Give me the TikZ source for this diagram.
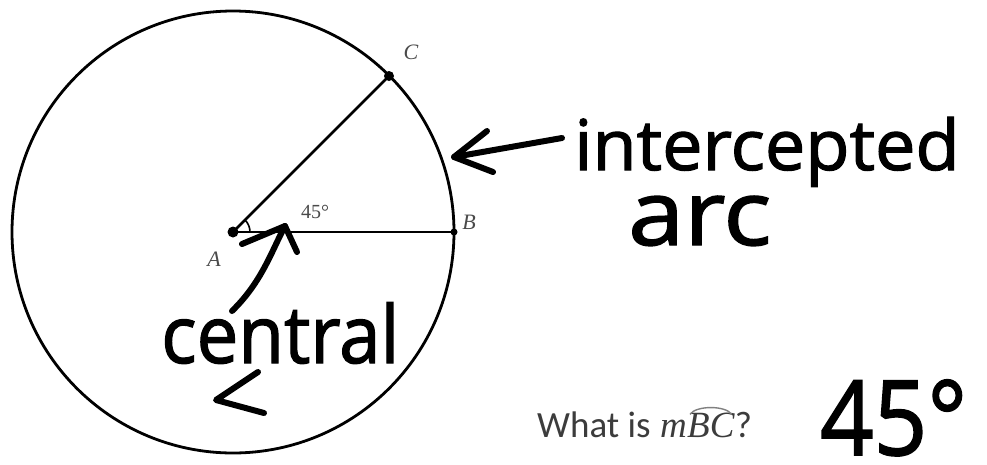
\documentclass[tikz,border=0pt]{standalone}
\usepackage{fontspec}
\usepackage{graphicx}
\setmainfont{Liberation Serif}
\newfontfamily\handfont[FakeBold=1.6]{Open Sans}
\newfontfamily\qfont{Carlito}
\newfontfamily\lblfont{Liberation Serif}
\definecolor{lbl}{HTML}{4A4A4A}
\definecolor{qtext}{HTML}{3C3C3C}
\tikzset{
  geo/.style={line width=2.8pt, black},
  hand/.style={line width=6pt, black, line cap=round, line join=round},
  ptlabel/.style={text=lbl, font=\lblfont\itshape\fontsize{22}{22}\selectfont, inner sep=0pt},
  handtext/.style={inner sep=0pt, text=black, text depth=0pt},
  qtxt/.style={inner sep=0pt, text=qtext, anchor=base west},
}
\begin{document}
\begin{tikzpicture}[x=1pt,y=-1pt]
\useasboundingbox (0,0) rectangle (987,464);
% geometry
\coordinate (A) at (233,232);
\coordinate (B) at (454,232);
\coordinate (C) at (389,76);
\draw[geo] (A) circle[radius=221];
\draw[geo] (A) -- (C);
\draw[geo] (A) -- (B);
\fill (A) circle[radius=5.5];
\fill (C) circle[radius=5];
\fill (B) circle[radius=3.5];
\draw[line width=1.6pt] ([xshift=17pt]A) arc[start angle=0, end angle=-45, radius=17];
% labels
\node[ptlabel] (lA) at (214,259) {A};
\node[ptlabel] (lB) at (469,222) {B};
\node[ptlabel] (lC) at (411,52) {C};
\node[text=lbl, font=\lblfont\fontsize{20}{20}\selectfont, inner sep=0pt] (l45) at (315,212) {45°};
% intercepted arc annotation
\node[handtext, anchor=base west] (t1) at (574,170) {\handfont\fontsize{70}{70}\selectfont\scalebox{1.03}[1]{intercepted}};
\node[handtext, anchor=base west, text height=48pt] (t2) at (628,245) {\handfont\fontsize{90}{90}\selectfont\scalebox{1.12}[1]{arc}};
\coordinate (i0) at (562,138);
\coordinate (i1) at (454,157);
\coordinate (i2) at (487,131);
\coordinate (i3) at (493,172);
\draw[hand] (i0) -- (i1);
\draw[hand] (i2) -- (i1) -- (i3);
% central angle annotation
\node[handtext, anchor=base west] (t3) at (161,363) {\handfont\fontsize{80}{80}\selectfont\scalebox{0.93}[1]{central}};
\coordinate (c0) at (232,311);
\coordinate (c1) at (285,226);
\coordinate (c2) at (242,244);
\coordinate (c3) at (297,252);
\draw[hand] (c0) .. controls (262,282) and (272,250) .. (c1);
\draw[hand] (c2) -- (c1) -- (c3);
\coordinate (g0) at (258,372);
\coordinate (g1) at (216,400);
\coordinate (g2) at (264,413);
\draw[hand] (g0) -- (g1) -- (g2);
% question
\node[qtxt, font=\qfont\fontsize{37}{37}\selectfont] (q1) at (537,437) {What is};
\node[qtxt, font=\lblfont\itshape\fontsize{37}{37}\selectfont] (q2) at ([xshift=9pt]q1.base east) {m};
\node[qtxt, font=\lblfont\itshape\fontsize{37}{37}\selectfont] (q3) at (q2.base east) {BC};
\node[qtxt, font=\qfont\fontsize{37}{37}\selectfont] (q4) at (q3.base east) {?};
\draw[gray, line width=1.4pt] ([xshift=3pt,yshift=-2pt]q3.north west) .. controls +(6,-9) and +(-6,-9) .. ([xshift=-3pt,yshift=-2pt]q3.north east);
% answer
\node[handtext, anchor=base west, text height=76pt] (ans) at (820,455) {\handfont\fontsize{104}{104}\selectfont\scalebox{0.9}[1]{45°}};
\end{tikzpicture}
\end{document}
